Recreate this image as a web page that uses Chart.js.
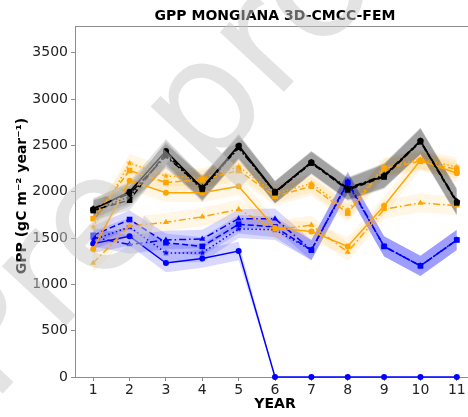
<!DOCTYPE html>
<html>
<head>
<meta charset="utf-8">
<script src="https://cdn.jsdelivr.net/npm/chart.js@4.4.1/dist/chart.umd.min.js"></script>
<style>
  html, body { margin: 0; padding: 0; background: #fff; overflow: hidden; }
  #wrap { width: 480px; height: 417px; }
</style>
</head>
<body>
<div id="wrap"><canvas id="gpp" width="480" height="417"></canvas></div>
<script>
// simulation years and y ticks
const years = [1, 2, 3, 4, 5, 6, 7, 8, 9, 10, 11];
const yTicks = [0, 500, 1000, 1500, 2000, 2500, 3000, 3500];

// black runs
const blackSolid   = [1810, 2000, 2440, 2040, 2500, 2000, 2320, 2030, 2170, 2550, 1890];
const blackDashed  = [1800, 1910, 2420, 2030, 2490, 1990, 2310, 2020, 2160, 2540, 1880];
const blackDotted  = [1790, 1950, 2400, 2020, 2480, 1990, 2310, 2030, 2170, 2540, 1890];
const blackDashDot = [1820, 1980, 2380, 2050, 2470, 2000, 2320, 2040, 2180, 2550, 1900];
const blackSpread  = [110, 110, 130, 130, 130, 120, 120, 120, 130, 140, 140];

// orange runs
const orangeSolid   = [1380, 2120, 1990, 1990, 2060, 1610, 1570, 1410, 1850, 2340, 2200];
const orangeDashed  = [1710, 2230, 2100, 2130, 2230, 1950, 2060, 1770, 2250, 2330, 2240];
const orangeDotted  = [1620, 2310, 2170, 2150, 2270, 1980, 2090, 1800, 2270, 2350, 2270];
const orangeDashDot = [1230, 1630, 1670, 1730, 1810, 1590, 1640, 1350, 1810, 1880, 1850];
const orangeSpread  = [100, 100, 100, 100, 100, 100, 100, 100, 100, 100, 100];

// blue runs
const blueSolid   = [1440, 1520, 1230, 1280, 1360, 0, 0, 0, 0, 0, 0];
const blueDashed  = [1530, 1700, 1450, 1410, 1650, 1620, 1370, 2100, 1410, 1200, 1480];
const blueDotted  = [1480, 1620, 1340, 1340, 1600, 1590, 1370, 2090, 1410, 1200, 1480];
const blueDashDot = [1510, 1430, 1480, 1490, 1710, 1710, 1370, 2110, 1410, 1200, 1480];
const blueSpread      = [100, 100, 100, 100, 100, 110, 110, 110, 110, 110, 110];
const blueSolidSpread = [100, 100, 100, 100, 100, 0, 0, 0, 0, 0, 0];

const BLACK = '#000000', ORANGE = '#ffa500', BLUE = '#0000ff';
const AXIS = '#8c8c8c';

// filled five-point star used as a marker
function starMarker(color, r) {
  const c = document.createElement('canvas');
  const s = Math.ceil(r * 2 + 2);
  c.width = s; c.height = s;
  const g = c.getContext('2d');
  g.beginPath();
  for (let i = 0; i < 10; i++) {
    const a = -Math.PI / 2 + i * Math.PI / 5;
    const rr = i % 2 ? r * 0.45 : r;
    g.lineTo(s / 2 + rr * Math.cos(a), s / 2 + rr * Math.sin(a));
  }
  g.closePath();
  g.fillStyle = color;
  g.fill();
  return c;
}

const styles = {
  solid:   { dash: [],              marker: 'circle',   radius: 3 },
  dashed:  { dash: [6, 3],          marker: 'rect',     radius: 4 },
  dotted:  { dash: [1.5, 2.5],      marker: 'star',     radius: 3.5 },
  dashDot: { dash: [7, 3, 1.5, 3],  marker: 'triangle', radius: 3.5 },
};

const pts = vals => years.map((x, i) => ({ x, y: vals[i] }));

function line(vals, color, kind) {
  const st = styles[kind];
  return {
    data: pts(vals),
    borderColor: color,
    backgroundColor: color,
    borderWidth: 1.5,
    borderDash: st.dash,
    pointStyle: st.marker === 'star' ? starMarker(color, st.radius) : st.marker,
    pointRadius: st.radius,
    pointBorderWidth: 0,
    fill: false,
    clip: false,
    tension: 0,
  };
}

function band(vals, spread, fillColor) {
  const common = { borderWidth: 0, pointRadius: 0, tension: 0, borderColor: 'transparent' };
  return [
    Object.assign({ data: years.map((x, i) => ({ x, y: vals[i] + spread[i] })), fill: '+1', backgroundColor: fillColor }, common),
    Object.assign({ data: years.map((x, i) => ({ x, y: vals[i] - spread[i] })), fill: false }, common),
  ];
}

const groups = [
  { color: BLACK,  fill: 'rgba(0,0,0,0.11)',     runs: [[blackSolid, 'solid', blackSpread], [blackDashed, 'dashed', blackSpread], [blackDotted, 'dotted', blackSpread], [blackDashDot, 'dashDot', blackSpread]] },
  { color: ORANGE, fill: 'rgba(255,165,0,0.10)', runs: [[orangeSolid, 'solid', orangeSpread], [orangeDashed, 'dashed', orangeSpread], [orangeDotted, 'dotted', orangeSpread], [orangeDashDot, 'dashDot', orangeSpread]] },
  { color: BLUE,   fill: 'rgba(0,0,255,0.15)',   runs: [[blueSolid, 'solid', blueSolidSpread], [blueDashed, 'dashed', blueSpread], [blueDotted, 'dotted', blueSpread], [blueDashDot, 'dashDot', blueSpread]] },
];

const lineSets = [];
const bandSets = [];
groups.forEach(g => g.runs.forEach(([vals, kind, spread]) => {
  lineSets.push(line(vals, g.color, kind));
  bandSets.push(...band(vals, spread, g.fill));
}));

// titles, top spine and the pre-proof stamp
const decorations = {
  id: 'decorations',
  afterDraw(chart) {
    const { ctx, chartArea: a } = chart;
    ctx.save();
    ctx.strokeStyle = AXIS;
    ctx.lineWidth = 1;
    ctx.beginPath();
    ctx.moveTo(a.left, a.top + 0.5);
    ctx.lineTo(a.right, a.top + 0.5);
    ctx.stroke();

    ctx.fillStyle = '#000';
    ctx.textAlign = 'center';
    ctx.textBaseline = 'middle';
    ctx.font = 'bold 14px "DejaVu Sans"';
    ctx.fillText('GPP MONGIANA 3D-CMCC-FEM', (a.left + a.right) / 2, 16);
    ctx.fillText('YEAR', (a.left + a.right) / 2, 404);

    ctx.translate(22, 196);
    ctx.rotate(-Math.PI / 2);
    ctx.font = 'bold 14px "DejaVu Sans"';
    ctx.fillText('GPP (gC m\u207B\u00B2 year\u207B\u00B9)', 0, 0);
    ctx.restore();

    ctx.save();
    ctx.translate(-8, 405);
    ctx.rotate(-47 * Math.PI / 180);
    ctx.font = '160px "DejaVu Sans"';
    ctx.fillStyle = 'rgba(200,200,200,0.5)';
    ctx.textBaseline = 'alphabetic';
    ctx.fillText('Pre-proof', 0, 0);
    ctx.restore();
  },
};

new Chart(document.getElementById('gpp'), {
  type: 'line',
  data: { datasets: [...lineSets, ...bandSets] },
  options: {
    responsive: false,
    animation: false,
    devicePixelRatio: 1,
    layout: { padding: { left: 0, top: 26, right: 5, bottom: 0 } },
    plugins: {
      legend: { display: false },
      tooltip: { enabled: false },
      filler: { drawTime: 'beforeDatasetsDraw' },
    },
    scales: {
      x: {
        type: 'linear',
        min: 0.5,
        max: 11.5,
        afterBuildTicks: s => { s.ticks = years.map(v => ({ value: v })); },
        afterFit: s => { s.height = 40; },
        grid: { drawOnChartArea: false, tickLength: 4, tickColor: AXIS },
        border: { color: AXIS, width: 1 },
        ticks: { color: '#222', padding: 1, font: { family: 'DejaVu Sans', size: 14 }, callback: v => String(v) },
      },
      y: {
        min: 0,
        max: 3790,
        afterBuildTicks: s => { s.ticks = yTicks.map(v => ({ value: v })); },
        afterFit: s => { s.width = 75; },
        grid: { drawOnChartArea: false, tickLength: 4, tickColor: AXIS },
        border: { color: AXIS, width: 1 },
        ticks: { color: '#222', padding: 3, font: { family: 'DejaVu Sans', size: 14 }, callback: v => String(v) },
      },
    },
  },
  plugins: [decorations],
});
</script>
</body>
</html>
